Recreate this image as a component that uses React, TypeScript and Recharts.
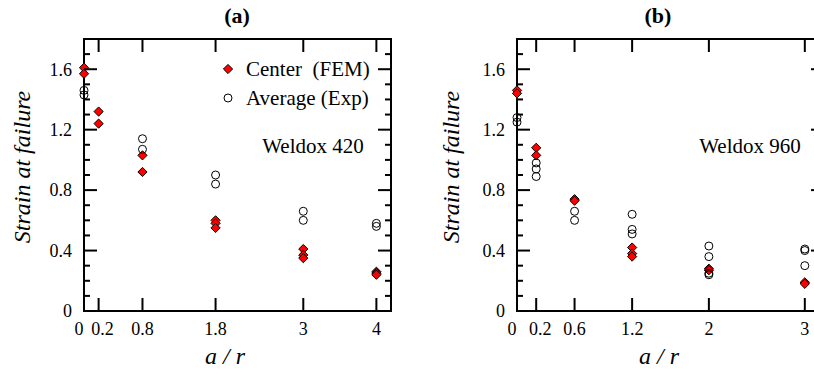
import React from 'react';
import { ScatterChart, Scatter, XAxis, YAxis, ReferenceArea, Legend } from 'recharts';

const FONT = '"Liberation Serif", "Times New Roman", Times, serif';

// ---- shared y axis ----
const Y_DOMAIN = [0, 1.8];
const Y_MAJOR = [0, 0.4, 0.8, 1.2, 1.6];
const Y_LABELS = ['0', '0.4', '0.8', '1.2', '1.6'];
const Y_MINOR = [0.1, 0.2, 0.3, 0.5, 0.6, 0.7, 0.9, 1.0, 1.1, 1.3, 1.4, 1.5, 1.7];

// ---- panel (a): Weldox 420 ----
const A_X_DOMAIN = [0, 4.2];
const A_X_TICKS = [0, 0.2, 0.8, 1.8, 3, 4];
const A_X_LABELS = ['0', '0.2', '0.8', '1.8', '3', '4'];
const A_FEM_X = [0, 0, 0.2, 0.2, 0.8, 0.8, 1.8, 1.8, 1.8, 3, 3, 3, 4, 4, 4];
const A_FEM_Y = [1.61, 1.57, 1.32, 1.24, 1.03, 0.92, 0.6, 0.58, 0.55, 0.41, 0.37, 0.35, 0.26, 0.25, 0.24];
const A_EXP_X = [0, 0, 0.8, 0.8, 1.8, 1.8, 3, 3, 4, 4];
const A_EXP_Y = [1.46, 1.43, 1.14, 1.07, 0.9, 0.84, 0.66, 0.6, 0.58, 0.56];

// ---- panel (b): Weldox 960 ----
const B_X_DOMAIN = [0, 3.2];
const B_X_TICKS = [0, 0.2, 0.6, 1.2, 2, 3];
const B_X_LABELS = ['0', '0.2', '0.6', '1.2', '2', '3'];
const B_FEM_X = [0, 0, 0.2, 0.2, 0.6, 0.6, 1.2, 1.2, 1.2, 2, 2, 3, 3];
const B_FEM_Y = [1.46, 1.44, 1.08, 1.03, 0.74, 0.73, 0.42, 0.38, 0.36, 0.28, 0.27, 0.19, 0.18];
const B_EXP_X = [0, 0, 0.2, 0.2, 0.2, 0.6, 0.6, 1.2, 1.2, 1.2, 2, 2, 2, 2, 3, 3, 3];
const B_EXP_Y = [1.28, 1.25, 0.98, 0.94, 0.89, 0.66, 0.6, 0.64, 0.54, 0.51, 0.43, 0.36, 0.25, 0.24, 0.41, 0.4, 0.3];

const FEM_NAME = 'Center  (FEM)';
const EXP_NAME = 'Average (Exp)';

const zip = (xs: number[], ys: number[]) => xs.map((x, i) => ({ x, y: ys[i] }));

const PLOT_W = 307;
const PLOT_H = 272;
const MAJOR_LEN = 13;
const MINOR_LEN = 6;

const Diamond = (props: any) => {
  const { cx, cy } = props;
  const h = 4.6;
  return (
    <path
      d={`M${cx},${cy - h}L${cx + h},${cy}L${cx},${cy + h}L${cx - h},${cy}Z`}
      fill="#ff0000"
      stroke="#000"
      strokeWidth={1}
    />
  );
};

const Ring = (props: any) => {
  const { cx, cy } = props;
  return <circle cx={cx} cy={cy} r={4} fill="none" stroke="#000" strokeWidth={1} />;
};

const makeXTick = (ticks: number[], labels: string[]) => (props: any) => {
  const { x, y, payload } = props;
  const i = ticks.indexOf(payload.value);
  const label = i >= 0 ? labels[i] : '';
  const dx = payload.value === 0 ? -5 : payload.value === 0.2 ? 4 : 0;
  return (
    <g>
      {payload.value !== 0 && (
        <>
          <line x1={x} x2={x} y1={y} y2={y - MAJOR_LEN} stroke="#000" strokeWidth={2} />
          <line x1={x} x2={x} y1={y - PLOT_H} y2={y - PLOT_H + MAJOR_LEN} stroke="#000" strokeWidth={2} />
        </>
      )}
      <text x={x + dx} y={y + 24} textAnchor="middle" style={{ fontFamily: FONT }} fontSize={18} fill="#000">
        {label}
      </text>
    </g>
  );
};

const YTick = (props: any) => {
  const { x, y, payload } = props;
  const i = Y_MAJOR.indexOf(payload.value);
  const major = i >= 0;
  const len = major ? MAJOR_LEN : MINOR_LEN;
  return (
    <g>
      {payload.value !== 0 && (
        <>
          <line x1={x} x2={x + len} y1={y} y2={y} stroke="#000" strokeWidth={2} />
          <line x1={x + PLOT_W} x2={x + PLOT_W - len} y1={y} y2={y} stroke="#000" strokeWidth={2} />
        </>
      )}
      {major && (
        <text x={x - 12} y={y} dy="0.35em" textAnchor="end" style={{ fontFamily: FONT }} fontSize={18} fill="#000">
          {Y_LABELS[i]}
        </text>
      )}
    </g>
  );
};

const LegendContent = (props: any) => {
  const payload = [...(props.payload || [])].sort((a: any, b: any) =>
    a.value === FEM_NAME ? -1 : b.value === FEM_NAME ? 1 : 0
  );
  return (
    <svg width={190} height={50} style={{ overflow: 'visible' }}>
      {payload.map((entry: any, i: number) => {
        const cy = 14 + i * 29;
        const isDiamond = entry.value === FEM_NAME;
        return (
          <g key={i}>
            {isDiamond ? <Diamond cx={10} cy={cy} /> : <Ring cx={10} cy={cy} />}
            <text
              x={28}
              y={cy}
              dy="0.35em"
              fontSize={21}
              fill="#000"
              style={{ whiteSpace: 'pre', fontFamily: FONT }}
            >
              {entry.value}
            </text>
          </g>
        );
      })}
    </svg>
  );
};

const ALL_Y_TICKS = [...Y_MAJOR, ...Y_MINOR].sort((a, b) => a - b);

function Panel(p: {
  left: number;
  width: number;
  plotLeft: number;
  xDomain: number[];
  xTicks: number[];
  xLabels: string[];
  fem: { x: number; y: number }[];
  exp: { x: number; y: number }[];
  legend: boolean;
}) {
  return (
    <div style={{ position: 'absolute', left: p.left, top: 0 }}>
      <ScatterChart
        width={p.width}
        height={376}
        margin={{
          top: 39,
          bottom: 376 - 39 - PLOT_H - 1,
          left: p.plotLeft - 1,
          right: p.width - p.plotLeft - PLOT_W,
        }}
      >
        <XAxis
          type="number"
          dataKey="x"
          domain={p.xDomain}
          ticks={p.xTicks}
          interval={0}
          height={1}
          tickSize={0}
          tickMargin={0}
          axisLine={false}
          tickLine={false}
          tick={makeXTick(p.xTicks, p.xLabels)}
        />
        <YAxis
          type="number"
          dataKey="y"
          domain={Y_DOMAIN}
          ticks={ALL_Y_TICKS}
          interval={0}
          width={1}
          tickSize={0}
          tickMargin={0}
          axisLine={false}
          tickLine={false}
          tick={YTick}
        />
        <ReferenceArea
          x1={p.xDomain[0]}
          x2={p.xDomain[1]}
          y1={Y_DOMAIN[0]}
          y2={Y_DOMAIN[1]}
          fill="none"
          fillOpacity={0}
          stroke="#000"
          strokeWidth={2}
          ifOverflow="visible"
        />
        <Scatter name={FEM_NAME} data={p.fem} shape={Diamond} legendType="diamond" isAnimationActive={false} />
        <Scatter name={EXP_NAME} data={p.exp} shape={Ring} legendType="circle" isAnimationActive={false} />
        {p.legend && (
          <Legend
            layout="vertical"
            align="center"
            verticalAlign="middle"
            wrapperStyle={{ left: 218, top: 55, width: 190, height: 50 }}
            content={LegendContent}
          />
        )}
      </ScatterChart>
    </div>
  );
}

export default function App() {
  const tStyle = { fill: '#000', style: { fontFamily: FONT } } as const;
  return (
    <div
      style={{
        position: 'absolute',
        left: 0,
        top: 0,
        width: 814,
        height: 376,
        overflow: 'hidden',
        background: '#fff',
      }}
    >
      <Panel
        left={0}
        width={410}
        plotLeft={84}
        xDomain={A_X_DOMAIN}
        xTicks={A_X_TICKS}
        xLabels={A_X_LABELS}
        fem={zip(A_FEM_X, A_FEM_Y)}
        exp={zip(A_EXP_X, A_EXP_Y)}
        legend={true}
      />
      <Panel
        left={407}
        width={420}
        plotLeft={110}
        xDomain={B_X_DOMAIN}
        xTicks={B_X_TICKS}
        xLabels={B_X_LABELS}
        fem={zip(B_FEM_X, B_FEM_Y)}
        exp={zip(B_EXP_X, B_EXP_Y)}
        legend={false}
      />
      <svg
        width={814}
        height={376}
        style={{ position: 'absolute', left: 0, top: 0, pointerEvents: 'none' }}
      >
        <text x={237} y={23} textAnchor="middle" fontSize={22} fontWeight="bold" {...tStyle}>(a)</text>
        <text x={658} y={23} textAnchor="middle" fontSize={22} fontWeight="bold" {...tStyle}>(b)</text>
        <text x={313} y={153} textAnchor="middle" fontSize={21} {...tStyle}>Weldox 420</text>
        <text x={750} y={153} textAnchor="middle" fontSize={21} {...tStyle}>Weldox 960</text>
        <text x={225} y={364} textAnchor="middle" fontSize={24} fontStyle="italic" {...tStyle}>a / r</text>
        <text x={659} y={364} textAnchor="middle" fontSize={24} fontStyle="italic" {...tStyle}>a / r</text>
        <text x={30} y={167} textAnchor="middle" fontSize={24} fontStyle="italic" transform="rotate(-90 30 167)" {...tStyle}>
          Strain at failure
        </text>
        <text x={459} y={167} textAnchor="middle" fontSize={24} fontStyle="italic" transform="rotate(-90 459 167)" {...tStyle}>
          Strain at failure
        </text>
      </svg>
    </div>
  );
}
